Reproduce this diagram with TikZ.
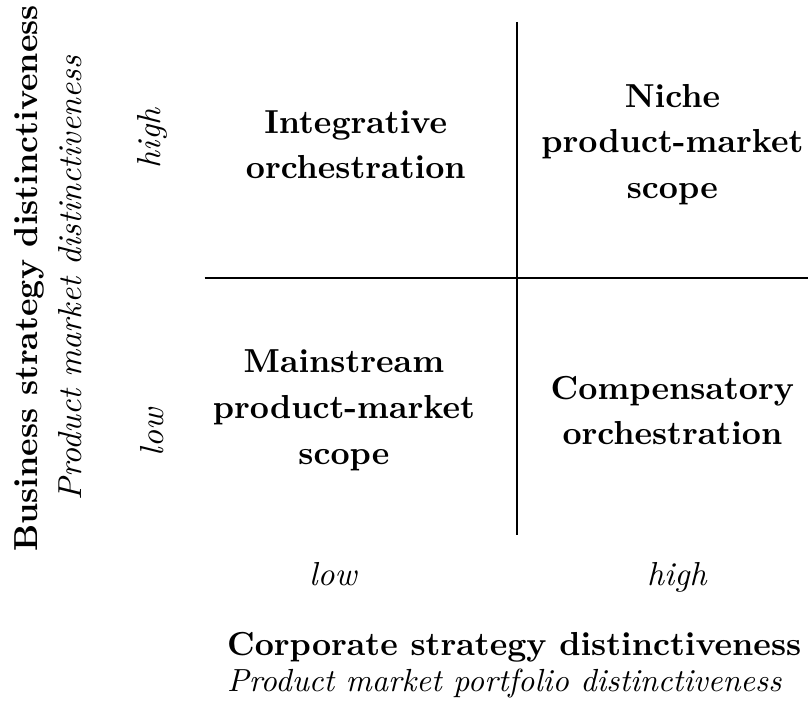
\documentclass[tikz,border=0pt]{standalone}
\newcommand\matrixfont{\fontsize{10.4}{14.3}\selectfont}
\begin{document}
\begin{tikzpicture}[
    quad/.style={align=center, font=\matrixfont\bfseries},
    level/.style={font=\matrixfont\itshape},
    heading/.style={font=\matrixfont\bfseries},
    axis/.style={semithick}]
  \useasboundingbox (-5.68,-4.81) rectangle (3.20,3.06);
  \coordinate (top) at (0,2.82);
  \coordinate (bottom) at (0,-2.82);
  \coordinate (left) at (-3.43,0);
  \coordinate (right) at (3.43,0);
  \draw[axis] (top) -- (bottom);
  \draw[axis] (left) -- (right);

  \node[quad] (integrative) at (-1.77,1.47) {Integrative\\orchestration};
  \node[quad] (niche) at (1.71,1.47) {Niche\\product-market\\scope};
  \node[quad] (mainstream) at (-1.90,-1.45) {Mainstream\\product-market\\scope};
  \node[quad] (compensatory) at (1.71,-1.45) {Compensatory\\orchestration};

  \node[level, rotate=90] (yhigh) at (-4.01,1.54) {high};
  \node[level, rotate=90] (ylow) at (-4.01,-1.69) {low};
  \node[level, anchor=base] (xlow) at (-2.02,-3.37) {low};
  \node[level, anchor=base] (xhigh) at (1.76,-3.37) {high};

  \node[heading, rotate=90] (ytitle) at (-5.36,0) {Business strategy distinctiveness};
  \node[level, rotate=90] (ysub) at (-4.91,0) {Product market distinctiveness};
  \node[heading, anchor=base west, inner sep=0pt] (xtitle) at (-3.19,-4.14) {Corporate strategy distinctiveness};
  \node[level, font=\fontsize{10}{12}\selectfont\itshape, anchor=base west, inner sep=0pt] (xsub) at (-3.19,-4.54) {Product market portfolio distinctiveness};
\end{tikzpicture}
\end{document}
